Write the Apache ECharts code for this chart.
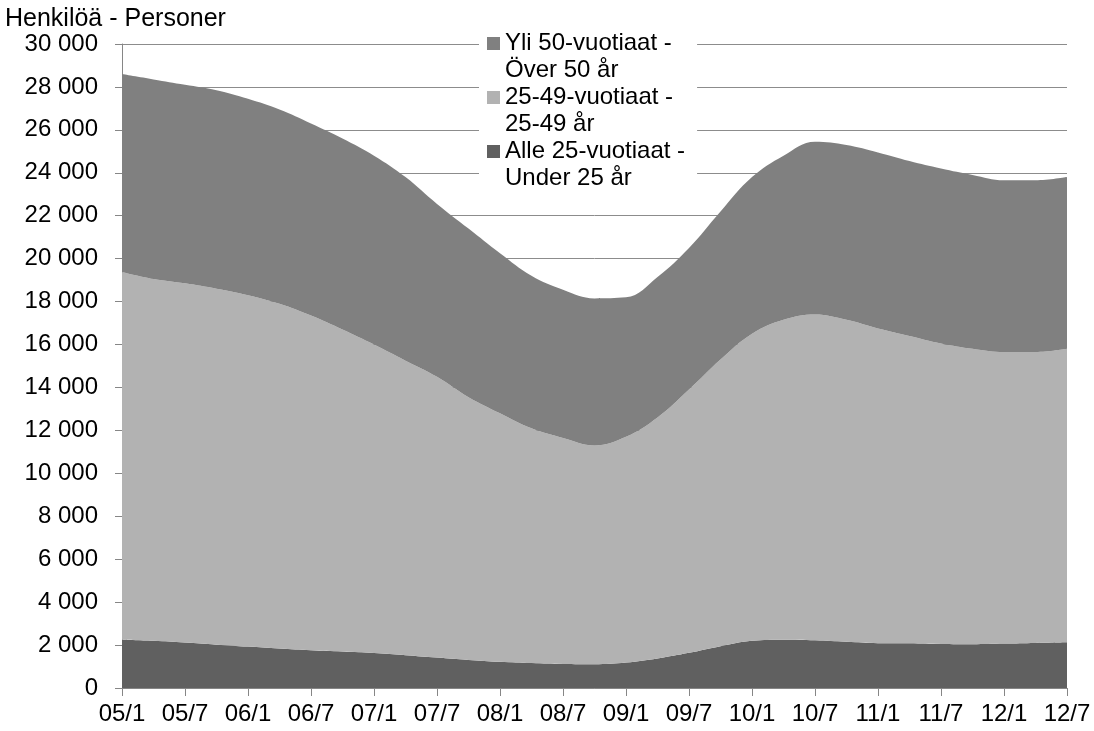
<!DOCTYPE html>
<html>
<head>
<meta charset="utf-8">
<script src="https://cdn.jsdelivr.net/npm/echarts@6/dist/echarts.min.js"></script>
<style>html,body{margin:0;padding:0;background:#fff}#c{width:1094px;height:731px}</style>
</head>
<body>
<div id="c"></div>
<script>
const categories = ['05/1','05/4','05/7','05/10','06/1','06/4','06/7','06/10','07/1','07/4','07/7','07/10','08/1','08/4','08/7','08/10','09/1','09/4','09/7','09/10','10/1','10/4','10/7','10/10','11/1','11/4','11/7','11/10','12/1','12/4','12/7'];
const under25 = [2250,2200,2120,2020,1930,1840,1760,1700,1630,1530,1420,1310,1220,1160,1120,1110,1190,1380,1640,1950,2200,2250,2220,2150,2090,2080,2050,2040,2070,2100,2130];
const age25to49 = [17130,16850,16730,16580,16370,16060,15590,15000,14370,13720,13080,12240,11580,10940,10530,10190,10510,11220,12260,13350,14300,14900,15180,15000,14660,14320,14000,13760,13580,13550,13670];
const over50 = [9220,9300,9250,9250,9150,9050,8950,8900,8800,8550,8050,7850,7450,7100,6900,6850,6500,6550,6600,6900,7300,7650,8050,8150,8200,8150,8150,8100,8000,8000,8000];
const seriesNames = ['Alle 25-vuotiaat -\nUnder 25 år', '25-49-vuotiaat -\n25-49 år', 'Yli 50-vuotiaat -\nÖver 50 år'];
const yTitle = 'Henkilöä - Personer';

const FONT = '"Liberation Sans", Arial, sans-serif';
const colors = ['#606060', '#b2b2b2', '#808080'];
const fmt = v => String(v).replace(/\B(?=(\d{3})+(?!\d))/g, ' ');
const icon = 'path://M0,0L13,0L13,13L0,13Z M0,40L0,40';

const chart = echarts.init(document.getElementById('c'));
chart.setOption({
  animation: false,
  backgroundColor: '#fff',
  title: {
    text: yTitle, left: 0, top: 2,
    textStyle: { fontFamily: FONT, fontSize: 25, fontWeight: 'normal', color: '#000' }
  },
  legend: {
    data: [seriesNames[2], seriesNames[1], seriesNames[0]],
    orient: 'vertical', left: 479, top: 26,
    padding: [4, 12, 8, 8],
    backgroundColor: '#fff',
    itemWidth: 13, itemHeight: 40, itemGap: 0,
    icon: icon,
    textStyle: { fontFamily: FONT, fontSize: 24, lineHeight: 27, color: '#000' }
  },
  grid: { left: 122, right: 27, top: 44, bottom: 43, containLabel: false },
  xAxis: {
    type: 'category', data: categories, boundaryGap: false,
    axisLine: { lineStyle: { color: '#868686', width: 1 } },
    axisTick: { interval: 1, length: 8, lineStyle: { color: '#868686' } },
    axisLabel: { interval: 1, margin: 14, fontFamily: FONT, fontSize: 24, color: '#000' },
    splitLine: { show: false }
  },
  yAxis: {
    type: 'value', min: 0, max: 30000, interval: 2000,
    axisLine: { show: true, lineStyle: { color: '#868686', width: 1 } },
    axisTick: { show: true, length: 7, lineStyle: { color: '#868686' } },
    axisLabel: { margin: 24, fontFamily: FONT, fontSize: 24, color: '#000', formatter: fmt },
    splitLine: { lineStyle: { color: '#8c8c8c', width: 1 } }
  },
  series: [under25, age25to49, over50].map((d, i) => ({
    name: seriesNames[i], type: 'line', stack: 'total', data: d,
    smooth: 0.4, showSymbol: false, symbol: 'none',
    lineStyle: { width: 0 },
    itemStyle: { color: colors[i] },
    areaStyle: { color: colors[i], opacity: 1 },
    z: 2
  }))
});
</script>
</body>
</html>
